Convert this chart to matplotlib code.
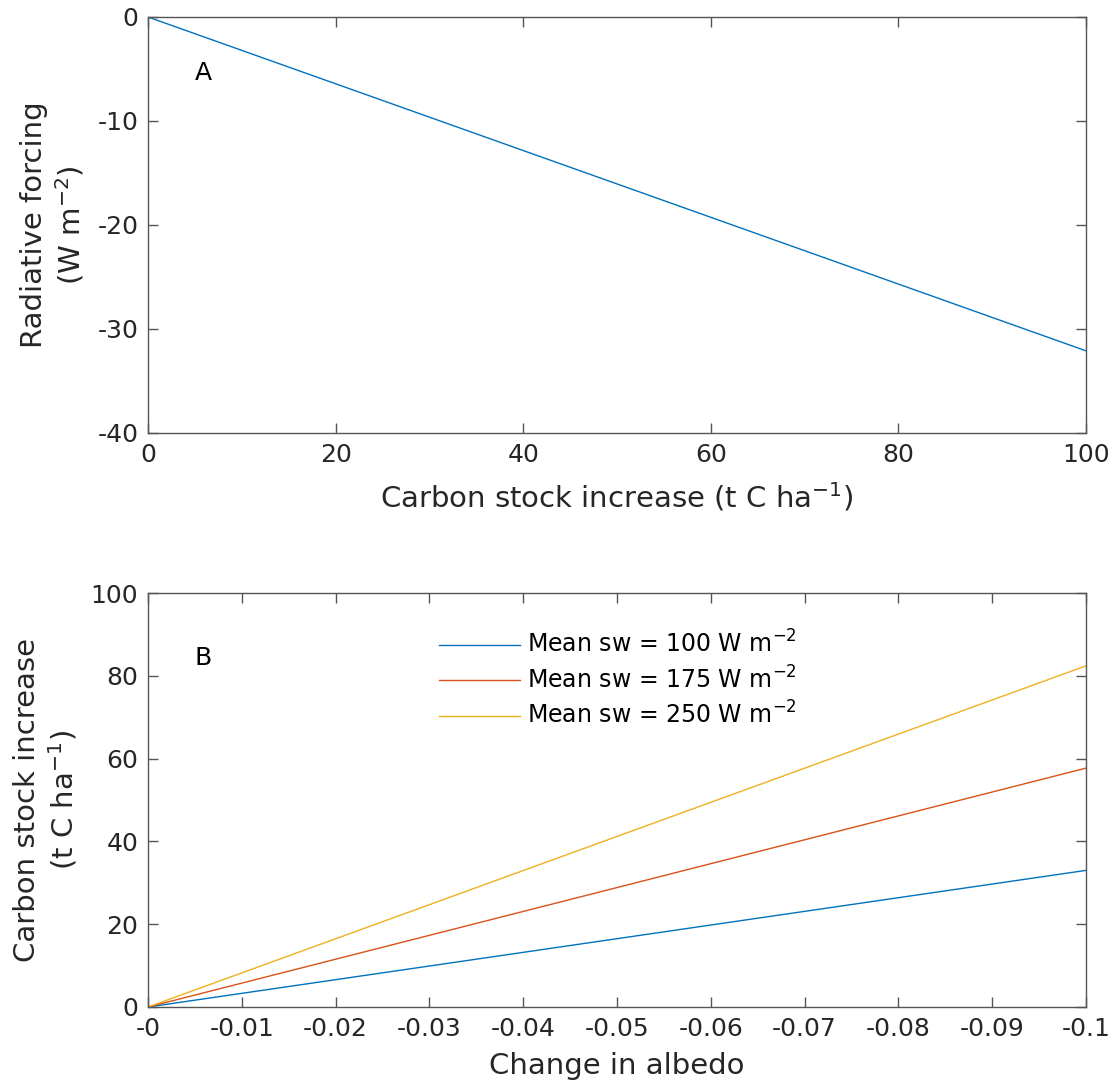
import matplotlib
matplotlib.use("Agg")
import matplotlib.pyplot as plt

# 데이터
carbon = [0, 100]
forcing = [0, -32.1]

albedo = [0, -0.1]
sw_labels = ["Mean sw = 100 W m$^{-2}$", "Mean sw = 175 W m$^{-2}$", "Mean sw = 250 W m$^{-2}$"]
stock_100 = [0, 33.0]
stock_175 = [0, 57.7]
stock_250 = [0, 82.4]

top_xticks = [0, 20, 40, 60, 80, 100]
top_yticks = [-40, -30, -20, -10, 0]
bot_xticks = [0, -0.01, -0.02, -0.03, -0.04, -0.05, -0.06, -0.07, -0.08, -0.09, -0.1]
bot_xlabels = ["-0", "-0.01", "-0.02", "-0.03", "-0.04", "-0.05", "-0.06", "-0.07", "-0.08", "-0.09", "-0.1"]
bot_yticks = [0, 20, 40, 60, 80, 100]

colors = ["#0072BD", "#D95319", "#EDB120"]
text_c = "#262626"
axis_c = "#555555"

plt.rcParams["mathtext.default"] = "regular"
plt.rcParams["font.family"] = "DejaVu Sans"
plt.rcParams["axes.unicode_minus"] = False

fig = plt.figure(figsize=(11.14, 10.85), dpi=100)
W, H = 1114, 1085
ax1 = fig.add_axes([148 / W, 1 - 433 / H, (1086 - 148) / W, (433 - 17) / H])
ax2 = fig.add_axes([148 / W, 1 - 1007 / H, (1086 - 148) / W, (1007 - 593) / H])


def style(ax):
    for s in ax.spines.values():
        s.set_color(axis_c)
        s.set_linewidth(1.0)
    ax.tick_params(direction="in", top=True, right=True, length=7, width=1.0,
                   colors=axis_c, labelcolor=text_c, labelsize=18, pad=7)


# A
ax1.plot(carbon, forcing, color=colors[0], lw=1.0)
ax1.set_xlim(0, 100)
ax1.set_ylim(-40, 0)
ax1.set_xticks(top_xticks)
ax1.set_yticks(top_yticks)
ax1.set_xlabel("Carbon stock increase (t C ha$^{-1}$)", fontsize=21, color=text_c, labelpad=10)
ax1.set_ylabel("Radiative forcing\n(W m$^{-2}$)", fontsize=21, color=text_c, labelpad=8)
ax1.text(0.0586, 0.865, "A", transform=ax1.transAxes, fontsize=18, color="black",
         ha="center", va="center")
style(ax1)

# B
for vals, lab, c in zip([stock_100, stock_175, stock_250], sw_labels, colors):
    ax2.plot(albedo, vals, color=c, lw=1.0, label=lab)
ax2.set_xlim(0, -0.1)
ax2.set_ylim(0, 100)
ax2.set_xticks(bot_xticks)
ax2.set_xticklabels(bot_xlabels)
ax2.set_yticks(bot_yticks)
ax2.set_xlabel("Change in albedo", fontsize=21, color=text_c, labelpad=8)
ax2.set_ylabel("Carbon stock increase\n(t C ha$^{-1}$)", fontsize=21, color=text_c, labelpad=8)
ax2.text(0.0586, 0.843, "B", transform=ax2.transAxes, fontsize=18, color="black",
         ha="center", va="center")
ax2.legend(loc="upper left", bbox_to_anchor=(0.288, 0.96), frameon=False, fontsize=17,
           handlelength=3.4, labelspacing=0.35, handletextpad=0.3)
style(ax2)

plt.savefig("out.png", dpi=100)
